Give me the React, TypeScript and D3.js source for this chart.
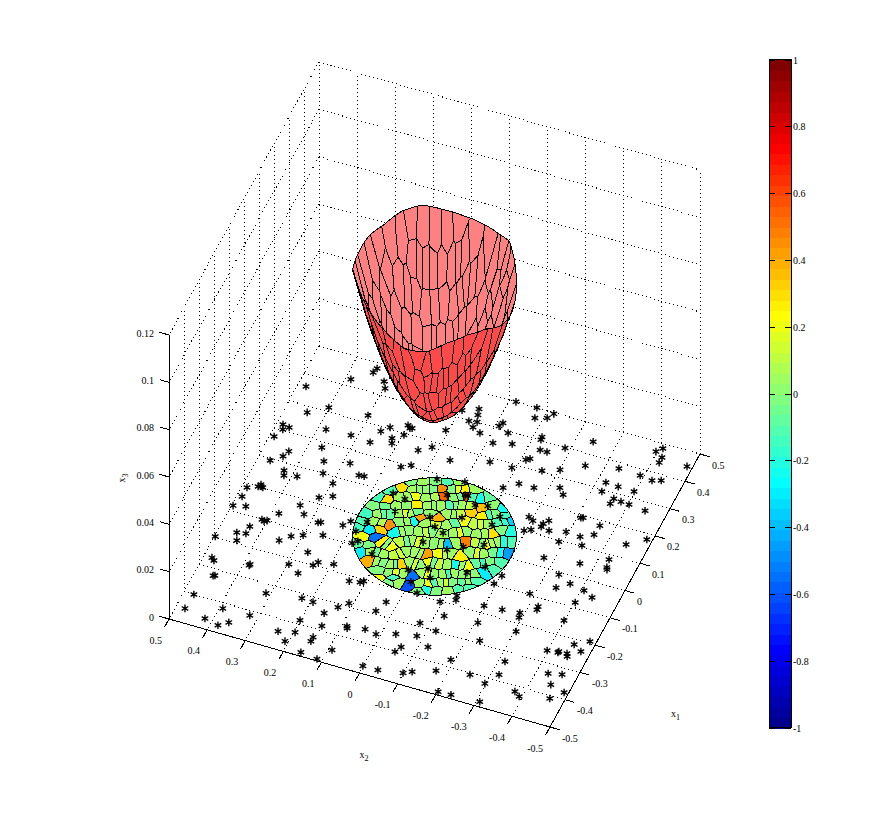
import { useEffect, useRef } from 'react';
import * as d3 from 'd3';

const WIDTH = 891;
const HEIGHT = 818;

const floorTicks = [-0.5, -0.4, -0.3, -0.2, -0.1, 0, 0.1, 0.2, 0.3, 0.4, 0.5];
const heightTicks = [0, 0.02, 0.04, 0.06, 0.08, 0.1, 0.12];
const colorTicks = [-1, -0.8, -0.6, -0.4, -0.2, 0, 0.2, 0.4, 0.6, 0.8, 1];

// sample points on the floor [x1, x2]
const starPoints = [
  [.423,.386],[.360,.479],[.279,.444],[.314,.401],[.242,.380],[.246,.316],[.219,.484],[.203,.478],[.215,.466],[.173,.489],
  [.181,.367],[.139,.437],[.118,.444],[.093,.468],[.139,.345],[.156,.283],[.074,.424],[.058,.418],[.067,.387],[.100,.332],
  [.126,.248],[.077,.297],[-.013,.487],[.009,.459],[0,.463],[.001,.451],[.003,.456],[-.046,.487],[-.083,.496],[-.074,.466],
  [.020,.311],[.036,.281],[-.022,.344],[-.047,.324],[-.067,.382],[-.101,.413],[-.105,.406],[-.100,.400],[-.060,.282],[-.057,.276],
  [-.047,.222],[-.027,.209],[-.134,.432],[-.165,.454],[-.160,.432],[-.197,.498],[-.190,.444],[-.128,.326],[-.114,.300],[-.152,.348],
  [-.096,.255],[-.095,.179],[-.164,.268],[-.267,.479],[-.274,.471],[-.254,.384],[-.258,.385],[-.219,.296],[-.186,.232],[-.200,.240],
  [-.178,.194],[-.323,.454],[-.321,.450],[-.239,.264],[-.218,.138],[-.212,.112],[-.205,.105],[-.400,.474],[-.331,.312],[-.315,.224],
  [-.317,.194],[-.288,.111],[-.311,.131],[-.452,.477],[-.418,.391],[-.416,.321],[-.342,.155],[-.466,.419],[-.386,.201],[-.457,.360],
  [-.476,.381],[-.385,.144],[-.363,.087],[-.369,.084],[-.441,.237],[-.429,.197],[-.428,.150],[-.443,.150],[-.289,.040],[-.251,.028],
  [-.356,.042],[-.362,.011],[-.344,-.034],[-.331,-.084],[-.287,-.075],[-.466,.209],[-.356,-.123],[-.380,-.062],[-.401,-.054],[-.452,.091],
  [-.487,.159],[-.494,.114],[-.475,.001],[-.474,-.038],[-.461,-.099],[-.449,-.118],[-.202,-.094],[-.182,-.128],[-.168,-.125],[-.243,-.121],
  [-.175,-.199],[-.171,-.245],[-.165,-.289],[-.181,-.293],[-.129,-.323],[-.140,-.324],[-.096,-.288],[-.083,-.402],[-.052,-.434],[-.037,-.407],
  [-.150,-.399],[-.234,-.206],[-.228,-.304],[-.298,-.121],[-.290,-.233],[-.217,-.452],[-.193,-.484],[-.260,-.398],[-.257,-.425],[-.253,-.426],
  [-.252,-.447],[-.261,-.451],[-.233,-.476],[-.376,-.191],[-.333,-.316],[-.424,-.171],[-.406,-.253],[-.380,-.319],[-.332,-.429],[-.323,-.462],
  [-.421,-.298],[-.365,-.449],[-.419,-.376],[-.431,-.392],[-.378,-.489],[-.410,-.464],[-.489,-.202],[-.487,-.235],[-.483,-.309],[.500,-.072],
  [.466,-.080],[.477,-.108],[.496,-.118],[.412,-.120],[.402,-.121],[.443,-.242],[.398,-.186],[.369,-.132],[.369,-.150],[.484,-.409],
  [.468,-.397],[.455,-.418],[.436,-.418],[.449,-.486],[.332,-.120],[.325,-.112],[.360,-.254],[.305,-.162],[.324,-.202],[.381,-.334],
  [.378,-.391],[.373,-.424],[.381,-.445],[.325,-.322],[.323,-.355],[.244,-.165],[.267,-.224],[.248,-.240],[.293,-.324],[.322,-.397],
  [.281,-.360],[.278,-.380],[.262,-.358],[.276,-.402],[.271,-.446],[.191,-.309],[.193,-.314],[.147,-.190],[.138,-.204],[.153,-.240],
  [.138,-.231],[.127,-.230],[.121,-.253],[.108,-.211],[.099,-.196],[.183,-.362],[.133,-.293],[.149,-.360],[.130,-.331],[.181,-.486],
  [.095,-.289],[.104,-.346],[.147,-.445],[.031,-.275],[.084,-.425],[.045,-.364],[.057,-.430],[.050,-.433],[-.009,-.330],[-.028,-.367],
  [-.053,-.340],[.481,.340],[.465,.344],[.446,.308],[.425,.297],[.324,.302],[.306,.237],[.285,.253],[.329,.199],[.323,.186],
  [.321,.191],[.294,.196],[.273,.219],[.257,.213],[.241,.264],[.259,.145],[.281,.117],[.347,.107],[.425,.095],[.444,.058],
  [.424,.053],[.401,.046],[.397,.066],[.381,.049],[.369,.026],[.408,-.009],[.421,-.014],[.394,-.038],[.500,-.017],[.349,-.016],
  [.363,-.061],[.256,.060],[.286,-.033],[.190,.163],[.205,.142],[.287,-.090],[.128,.235],[.216,-.095],[.243,-.126],[-.084,.168],
  [-.096,-.194],[-.064,-.202],[.184,.066],[.200,-.001],[.100,.148],[.092,.114],[.143,.023],[.159,-.018],[.159,-.025],[.136,-.053],
  [.145,-.083],[.045,.121],[.058,.035],[.084,-.039],[.121,-.124],[-.015,.171],[.031,.011],[.089,-.116],[.019,-.015],[-.054,.185],
  [-.028,.019],[-.007,-.078],[.018,-.123],[-.112,.120],[-.031,-.045],[-.130,.018],[-.109,-.026],[-.135,-.042],[-.086,-.119],[-.051,-.153],
  [-.165,-.003],[-.195,-.031],
];

// cells of the disk: seed [x1, x2, value]
const cellSeeds = [
  [.152,.123,-.02],[.163,.096,.05],[.175,.066,-.02],[.186,.039,-.12],[.197,.012,.05],
  [.109,.158,-.1],[.128,.137,.3],[.130,.106,.06],[.141,.079,.02],[.157,.043,.45],[.165,.018,-.02],[.174,-.009,.25],[.185,-.032,.05],
  [.073,.176,-.15],[.072,.154,.3],[.093,.126,.05],[.112,.095,.2],[.116,.067,.05],[.138,.031,.55],[.142,.003,.02],[.158,-.020,.6],[.162,-.056,-.25],[.172,-.074,-.08],
  [.044,.175,-.02],[.064,.125,.06],[.073,.102,0],[.083,.081,.25],[.093,.052,.05],[.103,.027,.06],[.113,.002,-.1],[.122,-.020,.05],[.131,-.072,.37],[.151,-.093,.02],[.151,-.122,-.25],
  [.011,.183,-.14],[.022,.156,.05],[.032,.131,-.08],[.042,.106,.06],[.051,.083,.05],[.047,.058,.42],[.069,.038,.02],[.060,.016,.38],[.086,-.003,.05],[.095,-.026,.1],[.113,-.053,.33],[.112,-.084,.25],[.127,-.107,-.02],[.129,-.138,-.15],
  [-.018,.182,-.1],[-.007,.155,.06],[-.005,.119,.45],[.017,.096,0],[.033,.068,-.25],[.033,.037,.06],[.046,-.014,.05],[.074,-.047,.2],[.074,-.076,.1],[.085,-.103,.06],[.102,-.128,-.1],[.121,-.151,-.35],
  [-.037,.185,-.15],[-.065,.163,.2],[-.036,.155,-.3],[-.057,.133,-.55],[-.024,.134,.33],[-.019,.092,-.25],[-.005,.069,.02],[.002,.040,.05],[.016,.014,-.02],[.017,-.014,.05],[.031,-.040,.05],[.044,-.064,.02],[.048,-.094,.05],[.061,-.126,.3],[.083,-.143,-.02],[.086,-.168,-.2],
  [-.092,.166,-.08],[-.088,.138,-.02],[-.067,.113,.25],[-.072,.088,.2],[-.046,.069,.1],[-.033,.045,.05],[-.029,.017,.06],[-.021,-.011,.02],[-.014,-.037,-.4],[.001,-.057,.05],[.012,-.075,.48],[.019,-.103,.1],[.022,-.128,.2],[.038,-.150,.05],[.050,-.180,-.12],
  [-.113,.150,-.3],[-.102,.128,.05],[-.101,.097,.06],[-.093,.068,.1],[-.074,.047,.06],[-.068,.023,.05],[-.067,-.002,.42],[-.049,-.034,.2],[-.040,-.055,.05],[-.043,-.084,.28],[-.017,-.104,.02],[-.010,-.130,.05],[.003,-.154,-.05],[.011,-.185,-.45],
  [-.132,.116,.4],[-.129,.086,-.02],[-.128,.063,.05],[-.120,.043,.33],[-.104,.022,.05],[-.102,-.001,.02],[-.085,-.018,.2],[-.082,-.043,.1],[-.077,-.064,.05],[-.069,-.085,-.22],[-.065,-.112,.2],[-.047,-.131,-.08],[-.033,-.155,-.02],[-.023,-.180,-.12],
  [-.158,.085,-.02],[-.155,.057,.02],[-.146,.027,.05],[-.147,0,-.55],[-.125,-.018,.05],[-.122,-.043,0],[-.112,-.068,.06],[-.100,-.089,.05],[-.094,-.113,.02],[-.085,-.136,0],[-.066,-.155,-.3],[-.049,-.171,-.12],
  [-.184,.075,.2],[-.191,.048,-.02],[-.164,.043,-.15],[-.178,.024,.05],[-.179,-.002,-.6],[-.162,-.025,.06],[-.157,-.046,.2],[-.140,-.071,.05],[-.130,-.096,-.02],[-.120,-.121,-.08],[-.107,-.145,-.12],
  [-.189,-.032,-.02],[-.172,-.047,-.2],[-.169,-.072,-.02],[-.159,-.097,.05],[-.143,-.119,-.1],[-.128,-.139,-.1],
  [.136,.092,.02],[.149,.061,-.02],[.170,.005,.18],[.102,.110,.05],[.127,.049,.08],[.150,-.008,-.05],[.160,-.038,-.12],
  [.054,.150,-.05],[.098,.040,.02],[.118,-.009,-.03],[.127,-.046,.12],[.027,.144,-.08],[.047,.095,.16],[.060,.070,-.05],[.090,-.015,.06],[.120,-.096,-.12],
  [-.006,.137,.08],[.025,.082,.05],[.040,.012,.14],[.060,-.030,-.08],[.080,-.090,.15],[.112,-.140,-.18],
  [-.012,.080,.04],[.009,.027,.12],[.037,-.052,.2],[.055,-.110,.04],[-.070,.100,.02],[-.040,.057,-.06],[-.031,.031,.18],[-.018,-.024,.05],
  [.021,-.115,-.02],[.030,-.139,.08],[.044,-.165,-.2],[-.102,.112,-.06],[-.084,.057,.14],[-.068,.011,.04],[-.045,-.045,.1],[-.014,-.117,.16],[.007,-.170,-.22],
  [-.130,.101,.05],[-.124,.053,-.05],[-.103,.010,.15],[-.083,-.030,-.04],[-.067,-.098,.04],[-.040,-.143,-.15],
  [-.150,.042,.18],[-.123,-.030,.2],[-.106,-.078,-.15],[-.090,-.124,.04],[-.135,-.083,.14],[-.113,-.133,.02],[-.148,-.058,-.12],
];

// height of the rim of the cup, read every 15 degrees around it
const rimAngles = [-180, -165, -150, -135, -120, -105, -90, -75, -60, -45, -30, -15, 0, 15, 30, 45, 60, 75, 90, 105, 120, 135, 150, 165, 180];
const rimHeights = [.1024, .1025, .1063, .1079, .1071, .1037, .1028, .1046, .110, .1147, .1124, .1121, .1123, .1134, .1155, .1147, .1121, .1121, .1105, .1105, .1151, .1139, .110, .1063, .1024];

// how far up the wall the surface has climbed at a given radius
const cupBottom = 0.051;
const cupRadii = [0, .02, .04, .06, .08, .1, .12, .14, .16, .18, .2];
const cupRise = [0, .01, .04, .09, .16, .25, .36, .49, .64, .81, 1];

const x1X = d3.scaleLinear().domain([-0.5, 0.5]).range([0, 150]);
const x1Y = d3.scaleLinear().domain([-0.5, 0.5]).range([0, -273]);
const x2X = d3.scaleLinear().domain([0.5, -0.5]).range([0, 381]);
const x2Y = d3.scaleLinear().domain([0.5, -0.5]).range([0, 108]);
const zY = d3.scaleLinear().domain([0, 0.12]).range([0, -284]);

const project = (x1: number, x2: number, z = 0): [number, number] => [
  169 + x1X(x1) + x2X(x2),
  619 + x1Y(x1) + x2Y(x2) + zY(z),
];

const jet = (i: number) => {
  const t = (i + 1) / 64;
  const c = (v: number) => Math.round(255 * Math.max(0, Math.min(1, v)));
  return `rgb(${c(1.5 - Math.abs(4 * t - 3))},${c(1.5 - Math.abs(4 * t - 2))},${c(1.5 - Math.abs(4 * t - 1))})`;
};

const tickText = (v: number) => String(v);

export default function App() {
  const svgRef = useRef<SVGSVGElement>(null);

  useEffect(() => {
    if (!svgRef.current) return;
    const svg = d3.select(svgRef.current);
    svg.selectAll('*').remove();

    const line = d3.line();
    const segment = (g: any, a: [number, number], b: [number, number], cls: string) => {
      g.append('path')
        .attr('d', line([a, b]))
        .attr('fill', 'none')
        .attr('stroke', '#000')
        .attr('stroke-width', 1)
        .attr('stroke-dasharray', cls === 'dot' ? '1 3' : null);
    };

    const grid = svg.append('g').attr('shape-rendering', 'crispEdges');
    floorTicks.forEach((t) => {
      segment(grid, project(t, 0.5), project(t, -0.5), 'dot');
      segment(grid, project(0.5, t), project(-0.5, t), 'dot');
      segment(grid, project(0.5, t), project(0.5, t, 0.12), 'dot');
      if (t > -0.5) segment(grid, project(t, 0.5), project(t, 0.5, 0.12), 'dot');
    });
    heightTicks.forEach((z) => {
      if (z === 0) return;
      segment(grid, project(0.5, 0.5, z), project(0.5, -0.5, z), 'dot');
      segment(grid, project(0.5, 0.5, z), project(-0.5, 0.5, z), 'dot');
    });

    const axes = svg.append('g').attr('shape-rendering', 'crispEdges');
    segment(axes, project(-0.5, 0.5), project(-0.5, -0.5), 'solid');
    segment(axes, project(-0.5, -0.5), project(0.5, -0.5), 'solid');
    segment(axes, project(-0.5, 0.5), project(-0.5, 0.5, 0.12), 'solid');

    const label = (x: number, y: number, text: string, anchor: string) =>
      svg.append('text')
        .attr('x', x)
        .attr('y', y)
        .attr('text-anchor', anchor)
        .attr('dominant-baseline', 'central')
        .attr('font-family', '"Liberation Serif", serif')
        .attr('font-size', 10)
        .attr('fill', '#000')
        .text(text);

    floorTicks.forEach((t) => {
      segment(axes, project(-0.5, t), project(-0.53, t), 'solid');
      segment(axes, project(t, -0.5), project(t, -0.525), 'solid');
      const [ax, ay] = project(-0.5, t);
      label(ax - 7, ay + 21, tickText(t), 'end');
      const [bx, by] = project(t, -0.5);
      label(bx + 12, by + 11, tickText(t), 'start');
    });
    heightTicks.forEach((z) => {
      segment(axes, project(-0.5, 0.5, z), project(-0.5, 0.525, z), 'solid');
      const [cx, cy] = project(-0.5, 0.5, z);
      label(cx - 15, cy - 2, tickText(z), 'end');
    });

    const axisName = (x: number, y: number, sub: string, rotate = 0) => {
      const t = svg.append('text')
        .attr('transform', `translate(${x},${y}) rotate(${rotate})`)
        .attr('text-anchor', 'middle')
        .attr('font-family', '"Liberation Serif", serif')
        .attr('font-size', 10)
        .attr('fill', '#000');
      t.append('tspan').text('x');
      t.append('tspan').attr('dy', 3).attr('font-size', 8).text(sub);
    };
    axisName(364, 757.5, '2');
    axisName(675.5, 716.5, '1');
    axisName(125, 478, '3', -90);

    // voronoi cells over the disk, cut back to its circle
    const radius = 0.2;
    const voronoi = d3.Delaunay.from(cellSeeds, (d) => d[0], (d) => d[1]).voronoi([-0.3, -0.3, 0.3, 0.3]);
    const rimZ = d3.scaleLinear().domain(rimAngles).range(rimHeights);
    const rise = d3.scaleLinear().domain(cupRadii).range(cupRise).clamp(true);

    const cells = cellSeeds.map((seed, i) => {
      const poly = voronoi.cellPolygon(i) as [number, number][];
      const points: [number, number][] = [];
      for (let k = 0; k < poly.length - 1; k++) {
        const [ax, ay] = poly[k];
        const [bx, by] = poly[k + 1];
        for (let s = 0; s < 5; s++) {
          let px = ax + ((bx - ax) * s) / 5;
          let py = ay + ((by - ay) * s) / 5;
          const r = Math.hypot(px, py);
          if (r > radius) {
            px = (px * radius) / r;
            py = (py * radius) / r;
          }
          points.push([px, py]);
        }
      }
      return { seed, points };
    });

    const surfaceZ = (x1: number, x2: number) => {
      const r = Math.hypot(x1, x2);
      const angle = (Math.atan2(x2, x1) * 180) / Math.PI;
      return cupBottom + (rimZ(angle) - cupBottom) * rise(r);
    };

    const color = d3.scaleQuantize<string>().domain([-1, 1]).range(d3.range(64).map(jet));
    const polyPath = d3.line().curve(d3.curveLinearClosed);

    svg.append('g')
      .attr('shape-rendering', 'crispEdges')
      .selectAll('path')
      .data(cells)
      .join('path')
      .attr('d', (d) => polyPath(d.points.map(([a, b]) => project(a, b))))
      .attr('fill', (d) => color(d.seed[2]))
      .attr('stroke', '#000')
      .attr('stroke-width', 1);

    const star = d3.symbol().type(d3.symbolAsterisk).size(40);
    svg.append('g')
      .selectAll('path')
      .data(starPoints)
      .join('path')
      .attr('d', star as any)
      .attr('transform', (d) => `translate(${project(d[0], d[1])})`)
      .attr('fill', 'none')
      .attr('stroke', '#000')
      .attr('stroke-width', 1.4);

    // the cup: cells seen from inside go first, the outer wall over them
    const lifted = cells.map((c) => {
      const pts = c.points.map(([a, b]) => project(a, b, surfaceZ(a, b)));
      return { pts, inner: d3.polygonArea(pts) * d3.polygonArea(c.points.map(([a, b]) => project(a, b))) > 0, depth: project(c.seed[0], c.seed[1])[1] };
    });
    const ordered = [
      ...lifted.filter((c) => c.inner).sort((a, b) => d3.ascending(a.depth, b.depth)),
      ...lifted.filter((c) => !c.inner).sort((a, b) => d3.ascending(a.depth, b.depth)),
    ];
    svg.append('g')
      .attr('shape-rendering', 'crispEdges')
      .selectAll('path')
      .data(ordered)
      .join('path')
      .attr('d', (d) => polyPath(d.pts))
      .attr('fill', (d) => (d.inner ? '#ff8080' : '#ff4848'))
      .attr('stroke', '#000')
      .attr('stroke-width', 1);

    // colorbar
    const barY = d3.scaleLinear().domain([-1, 1]).range([728, 60]);
    const bands = d3.scaleBand<number>().domain(d3.range(64)).range([728, 60]);
    const bar = svg.append('g').attr('shape-rendering', 'crispEdges');
    bar.selectAll('rect.level')
      .data(d3.range(64))
      .join('rect')
      .attr('class', 'level')
      .attr('x', 769)
      .attr('width', 22)
      .attr('y', (d) => bands(d)!)
      .attr('height', bands.bandwidth() + 0.5)
      .attr('fill', (d) => jet(d));
    bar.append('rect')
      .attr('x', 769)
      .attr('y', 59.5)
      .attr('width', 22)
      .attr('height', 668)
      .attr('fill', 'none')
      .attr('stroke', '#000');
    colorTicks.forEach((v) => {
      segment(bar, [769, barY(v)], [775, barY(v)], 'solid');
      segment(bar, [785, barY(v)], [791, barY(v)], 'solid');
      label(793, barY(v), tickText(v), 'start');
    });
  }, []);

  return (
    <svg
      ref={svgRef}
      width={WIDTH}
      height={HEIGHT}
      style={{ position: 'absolute', left: 0, top: 0, background: '#fff' }}
    />
  );
}
